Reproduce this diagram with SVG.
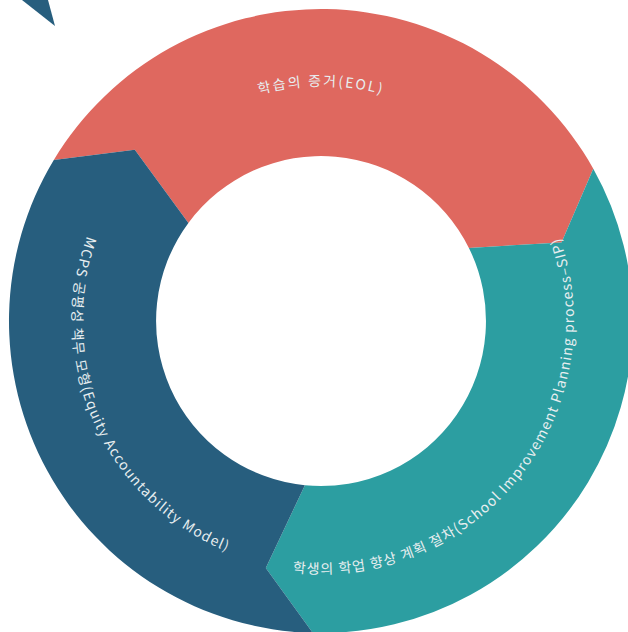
<svg xmlns="http://www.w3.org/2000/svg" width="628" height="632" viewBox="0 0 628 632">
<style>
.lbl{font-family:"Noto Sans CJK KR","Noto Sans",sans-serif;font-size:14px;fill:#e8eef0;}
</style>
<defs>
<path id="pRed" d="M117.5,203.5 A235,235 0 0 1 524.5,203.5"/>
<path id="pBlue" d="M181.7,114.6 A249,249 0 0 0 381.2,562.6"/>
<path id="pTeal" d="M200.3,543.3 A253,253 0 0 0 510.5,153.4"/>
</defs>
<rect width="628" height="632" fill="#ffffff"/>
<polygon points="22,0 48,0 55,26" fill="#275e7e"/>
<g id="node-eol">
<path d="M53.8,159.9 A312,312 0 0 1 593.3,168.8 L561.5,242.4 L468.9,247.9 A165,165 0 0 0 188.4,222.9 L134.8,149.7 Z" fill="#df685f"/>
<text class="lbl" letter-spacing="2"><textPath href="#pRed" startOffset="50%" text-anchor="middle">학습의 증거(EOL)</textPath></text>
</g>
<g id="node-sip">
<path d="M593.3,168.8 A312,312 0 0 1 312.8,632.9 L265.8,567.9 L304.9,485.2 A165,165 0 0 0 468.9,247.9 L561.5,242.4 Z" fill="#2c9ea1"/>
<text class="lbl" letter-spacing="1.2"><textPath href="#pTeal" startOffset="50%" text-anchor="middle">학생의 학업 향상 계획 절차(School Improvement Planning process–SIP)</textPath></text>
</g>
<g id="node-eam">
<path d="M312.8,632.9 A312,312 0 0 1 53.8,159.9 L134.8,149.7 L188.4,222.9 A165,165 0 0 0 304.9,485.2 L265.8,567.9 Z" fill="#275e7e"/>
<text class="lbl" letter-spacing="1.25"><textPath href="#pBlue" startOffset="50%" text-anchor="middle">MCPS 공평성 책무 모형(Equity Accountability Model)</textPath></text>
</g>
<g id="connectors"></g>
</svg>
